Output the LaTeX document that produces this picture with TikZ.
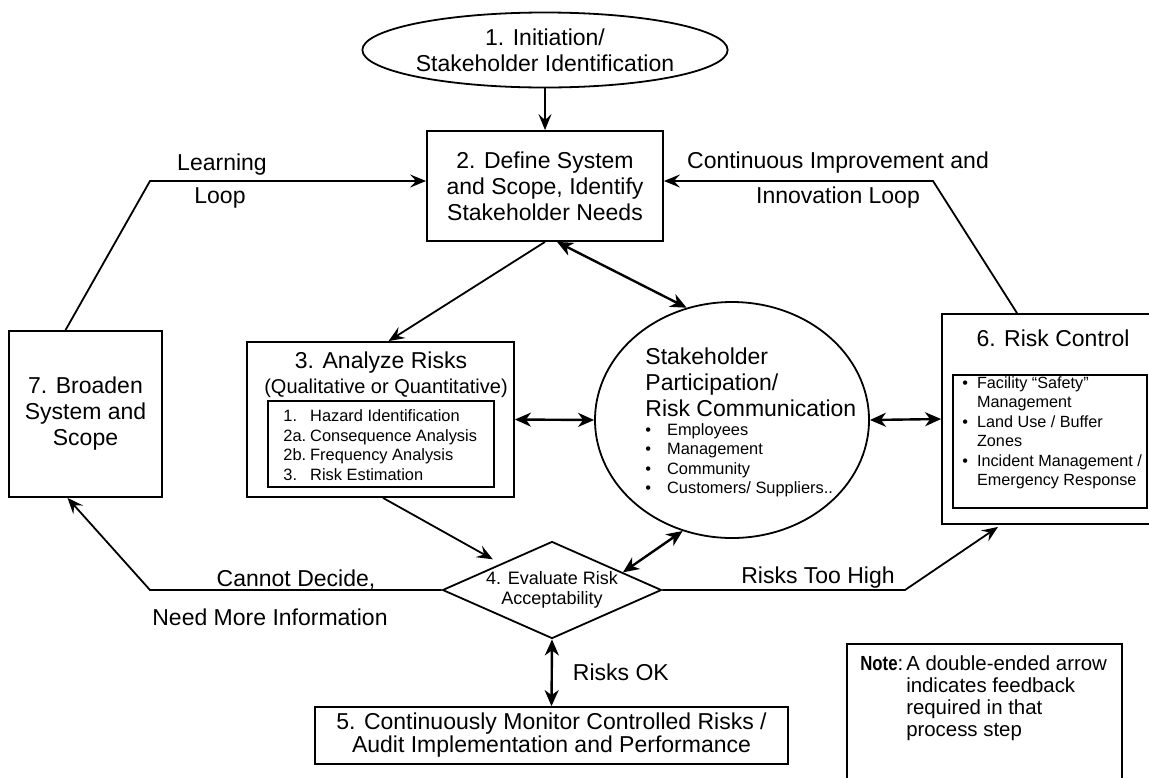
\documentclass[tikz,border=0pt]{standalone}
\usepackage{fontspec}
\setmainfont{Liberation Sans}
\usetikzlibrary{shapes.geometric, arrows.meta}
\newcommand{\bigtext}{\fontsize{11.5}{13}\selectfont}
\newcommand{\midtext}{\fontsize{10}{11}\selectfont}
\newcommand{\smalltext}{\fontsize{8.2}{9.75}\selectfont}
\tikzstyle{startstop} = [ellipse, draw, line width=0.9pt, minimum width=166pt, minimum height=37.5pt, inner sep=0pt, align=center, font=\bigtext]
\tikzstyle{process} = [rectangle, draw, line width=0.9pt, align=center, font=\bigtext, inner sep=0pt]
\tikzstyle{listbox} = [rectangle, draw, line width=0.9pt, inner sep=0pt]
\tikzstyle{decision} = [diamond, draw, line width=0.9pt, aspect=2.26, minimum width=109.5pt, minimum height=48.5pt, inner sep=0pt, align=center, font=\fontsize{9}{10}\selectfont]
\tikzstyle{stake} = [ellipse, draw, line width=0.9pt, minimum width=137pt, minimum height=118pt, inner sep=0pt]
\tikzstyle{arrow} = [line width=0.9pt, ->, >={Stealth[length=8pt, width=6.5pt, inset=3pt]}]
\tikzstyle{feedback} = [line width=1.2pt, <->, >={Stealth[length=8pt, width=7pt, inset=2.5pt]}]
\tikzstyle{looptext} = [font=\bigtext, inner sep=0pt]

\begin{document}
\begin{tikzpicture}[x=0.5pt, y=-0.5pt]
\useasboundingbox (0,0) rectangle (1149,777);
\clip (0,0) rectangle (1149,777);

\node (init)    [startstop] at (545,50)  {1. Initiation/\\Stakeholder Identification};
\node (def)     [process, minimum width=118pt, minimum height=55pt] at (545,186) {2. Define System\\and Scope, Identify\\Stakeholder Needs};
\node (broaden) [process, minimum width=76.5pt, minimum height=83pt] at (85.5,414) {7. Broaden\\System and\\Scope};

\node (analyze)      [process, minimum width=133.5pt, minimum height=77.5pt] at (380.5,419.5) {};
\node (analyzetitle) [looptext] at (381,363) {3. Analyze Risks};
\node (analyzesub)   [font=\midtext, inner sep=0pt] at (386,388) {(Qualitative or Quantitative)};
\node (analyzelist)  [listbox, minimum width=113pt, minimum height=43pt] at (381,444) {};
\node (analyzeitems) [font=\smalltext, anchor=west, inner sep=0pt] at (283,447) {\begin{tabular}{@{}l@{\hspace{2pt}}l@{}}1. & Hazard Identification\\ 2a. & Consequence Analysis\\ 2b. & Frequency Analysis\\ 3. & Risk Estimation\end{tabular}};

\node (part)      [stake] at (732,420) {};
\node (parttitle) [font=\bigtext, align=left, anchor=north west, inner sep=0pt] at (645,347) {Stakeholder\\Participation/\\Risk Communication};
\node (partlist)  [font=\smalltext, anchor=north west, inner sep=0pt] at (645,421) {\begin{tabular}{@{}l@{\hspace{8pt}}l@{}}\textbullet & Employees\\ \textbullet & Management\\ \textbullet & Community\\ \textbullet & Customers/ Suppliers..\end{tabular}};

\node (control)      [process, minimum width=108pt, minimum height=105pt] at (1050,419) {};
\node (controltitle) [looptext] at (1053,338) {6. Risk Control};
\node (controllist)  [listbox, minimum width=97pt, minimum height=66.5pt] at (1050,441.5) {};
\node (controlitems) [font=\fontsize{8.1}{9.75}\selectfont, anchor=north west, inner sep=0pt] at (962,374) {\begin{tabular}{@{}l@{\hspace{4.5pt}}l@{}}\textbullet & Facility “Safety”\\ & Management\\ \textbullet & Land Use / Buffer\\ & Zones\\ \textbullet & Incident Management /\\ & Emergency Response\end{tabular}};

\node (eval)    [decision] at (552,590) {4. Evaluate Risk\\Acceptability};
\node (monitor) [process, minimum width=236.5pt, minimum height=28.5pt, font=\fontsize{11.5}{11.5}\selectfont] at (551.5,735.5) {5. Continuously Monitor Controlled Risks /\\Audit Implementation and Performance};

\node (note)     [listbox, minimum width=137.5pt, minimum height=100pt, anchor=north west] at (846,643) {};
\node (notetext) [font=\fontsize{10.2}{10.9}\selectfont, anchor=north west, inner sep=0pt] at (860,655) {\begin{tabular}{@{}l@{\hspace{1.5pt}}l@{}}\scalebox{0.82}[1]{\textbf{Note}}: & A double-ended arrow\\ & indicates feedback\\ & required in that\\ & process step\end{tabular}};

% loop corners
\coordinate (learn)     at (150,181);
\coordinate (improve)   at (933,181);
\coordinate (undecided) at (150,590);
\coordinate (toohigh)   at (905,590);

\node (learning)  [looptext] at (222,165) {Learning};
\node (learnloop) [looptext] at (220,198) {Loop};
\node (contimp)   [looptext] at (838,163) {Continuous Improvement and};
\node (innoloop)  [looptext] at (838,198) {Innovation Loop};
\node (cannot)    [looptext] at (296,580) {Cannot Decide,};
\node (needmore)  [looptext] at (270,617) {Need More Information};
\node (toohightext) [looptext] at (818,578) {Risks Too High};

\draw [arrow] (init) -- (def);
\draw [arrow] (def.south) -- ([xshift=4pt]analyze.north);
\draw [feedback] ([xshift=6pt]def.south) -- (part.112);
\draw [feedback] (analyze.east) -- (part.west);
\draw [feedback] (part.east) -- (control.west);
\draw [arrow] ([xshift=1.25pt]analyze.south) -- ([xshift=-2pt, yshift=3pt]eval.north west);
\draw [feedback] (eval.14) -- (part.246);
\draw [feedback] (eval.south) -- node[looptext, right, xshift=10pt] {Risks OK} (monitor.north);
\draw [arrow] (eval.west) -- (undecided) -- ([xshift=-9pt]broaden.south);
\draw [arrow] (eval.east) -- (toohigh) -- ([xshift=-26pt, yshift=-1pt]control.south);
\draw [arrow] ([xshift=-10pt]broaden.north) -- (learn) -- ([yshift=2.5pt]def.west);
\draw [arrow] ([xshift=-16.5pt]control.north) -- (improve) -- ([yshift=2.5pt]def.east);

\end{tikzpicture}
\end{document}
